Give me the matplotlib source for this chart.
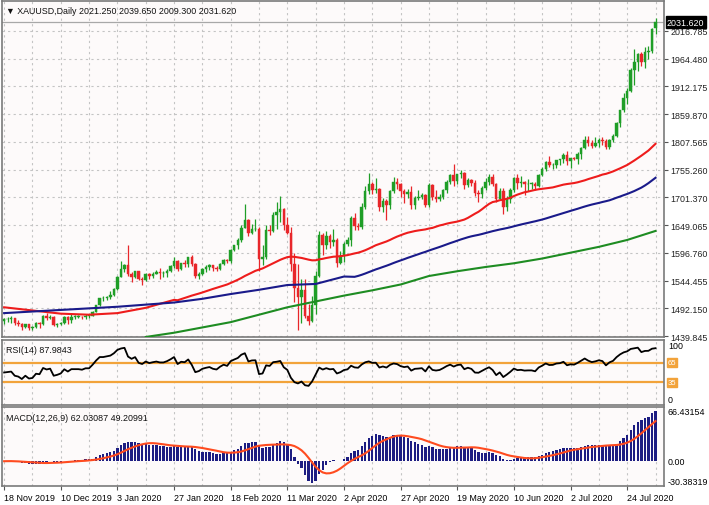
import numpy as np
import matplotlib
matplotlib.use("Agg")
import matplotlib.pyplot as plt

plt.rcParams["font.family"] = ["Liberation Sans", "DejaVu Sans"]

# ---------------- data (XAUUSD daily, 18 Nov 2019 .. 5 Aug 2020) ----------------
opens = [1468, 1471, 1472, 1473, 1464, 1462, 1456, 1462, 1455, 1456,
         1464, 1463, 1477, 1474, 1476, 1460, 1462, 1465, 1475, 1470,
         1476, 1476, 1476, 1475, 1478, 1478, 1486, 1498, 1511, 1511,
         1514, 1517, 1528, 1552, 1566, 1574, 1557, 1552, 1562, 1548,
         1545, 1557, 1553, 1557, 1560, 1558, 1558, 1563, 1571, 1582,
         1567, 1577, 1576, 1589, 1576, 1553, 1557, 1566, 1570, 1573,
         1568, 1566, 1576, 1584, 1581, 1602, 1611, 1620, 1644, 1658,
         1634, 1641, 1642, 1585, 1588, 1640, 1637, 1669, 1673, 1680,
         1649, 1634, 1576, 1530, 1514, 1526, 1478, 1469, 1498, 1553,
         1631, 1611, 1628, 1617, 1621, 1577, 1590, 1613, 1620, 1662,
         1648, 1645, 1683, 1713, 1726, 1716, 1717, 1683, 1694, 1686,
         1714, 1730, 1726, 1713, 1707, 1712, 1686, 1700, 1702, 1705,
         1686, 1725, 1702, 1698, 1702, 1715, 1731, 1743, 1733, 1745,
         1748, 1725, 1735, 1729, 1709, 1708, 1719, 1730, 1740, 1727,
         1699, 1714, 1684, 1698, 1715, 1737, 1728, 1730, 1726, 1727,
         1727, 1723, 1743, 1754, 1768, 1762, 1763, 1771, 1773, 1781,
         1770, 1775, 1774, 1783, 1795, 1809, 1803, 1799, 1803, 1809,
         1807, 1796, 1810, 1818, 1842, 1866, 1888, 1902, 1942, 1957,
         1971, 1956, 1975, 1977, 2021.25]
highs = [1474, 1476, 1478, 1474, 1470, 1464, 1463, 1463, 1459, 1466,
         1467, 1479, 1483, 1479, 1478, 1465, 1467, 1477, 1477, 1481,
         1479, 1479, 1478, 1481, 1481, 1487, 1499, 1512, 1515, 1516,
         1524, 1530, 1553, 1582, 1576, 1611, 1561, 1563, 1562, 1551,
         1559, 1558, 1561, 1564, 1568, 1562, 1566, 1573, 1588, 1583,
         1578, 1584, 1589, 1592, 1578, 1561, 1568, 1574, 1576, 1574,
         1571, 1578, 1585, 1586, 1604, 1612, 1624, 1649, 1689, 1661,
         1651, 1660, 1645, 1611, 1649, 1649, 1674, 1692, 1703, 1681,
         1664, 1645, 1596, 1575, 1548, 1547, 1500, 1516, 1562, 1637,
         1635, 1637, 1632, 1642, 1624, 1600, 1617, 1626, 1666, 1672,
         1653, 1691, 1722, 1747, 1730, 1737, 1719, 1700, 1698, 1716,
         1739, 1738, 1728, 1717, 1718, 1722, 1703, 1715, 1710, 1708,
         1728, 1727, 1716, 1708, 1717, 1735, 1745, 1765, 1746, 1753,
         1749, 1737, 1736, 1735, 1716, 1722, 1738, 1745, 1745, 1729,
         1719, 1719, 1703, 1719, 1739, 1745, 1741, 1732, 1736, 1731,
         1731, 1745, 1758, 1769, 1779, 1767, 1772, 1774, 1785, 1788,
         1776, 1777, 1786, 1797, 1818, 1818, 1809, 1815, 1813, 1815,
         1811, 1811, 1820, 1843, 1866, 1898, 1907, 1945, 1981, 1973,
         1975, 1984, 1987, 2021, 2039.65]
lows = [1462, 1466, 1464, 1461, 1459, 1452, 1454, 1451, 1452, 1454,
        1455, 1461, 1470, 1471, 1458, 1456, 1460, 1462, 1462, 1464,
        1472, 1473, 1472, 1472, 1474, 1477, 1485, 1497, 1506, 1507,
        1510, 1516, 1526, 1552, 1561, 1553, 1541, 1549, 1545, 1536,
        1543, 1548, 1550, 1556, 1547, 1551, 1551, 1561, 1569, 1563,
        1565, 1570, 1570, 1572, 1549, 1548, 1554, 1561, 1565, 1563,
        1562, 1564, 1574, 1577, 1578, 1600, 1603, 1617, 1644, 1628,
        1632, 1637, 1563, 1573, 1586, 1630, 1636, 1641, 1654, 1640,
        1633, 1562, 1504, 1451, 1465, 1474, 1460, 1466, 1482, 1552,
        1592, 1603, 1606, 1610, 1570, 1576, 1580, 1610, 1610, 1640,
        1640, 1642, 1679, 1708, 1707, 1709, 1675, 1673, 1659, 1679,
        1709, 1717, 1702, 1690, 1701, 1680, 1680, 1696, 1698, 1683,
        1683, 1696, 1692, 1694, 1698, 1710, 1726, 1722, 1727, 1738,
        1717, 1720, 1723, 1704, 1693, 1700, 1715, 1725, 1722, 1693,
        1698, 1670, 1676, 1691, 1712, 1717, 1720, 1705, 1714, 1717,
        1715, 1720, 1741, 1752, 1758, 1755, 1757, 1763, 1767, 1762,
        1757, 1771, 1764, 1774, 1792, 1798, 1795, 1797, 1797, 1801,
        1793, 1793, 1806, 1815, 1834, 1862, 1878, 1900, 1914, 1939,
        1949, 1946, 1962, 1973, 2009.3]
closes = [1471, 1472, 1473, 1464, 1462, 1456, 1462, 1455, 1456, 1464,
          1463, 1477, 1474, 1476, 1460, 1462, 1465, 1475, 1470, 1476,
          1476, 1476, 1475, 1478, 1478, 1486, 1498, 1511, 1511, 1514,
          1517, 1528, 1552, 1566, 1574, 1557, 1552, 1562, 1548, 1545,
          1557, 1553, 1557, 1560, 1558, 1558, 1563, 1571, 1582, 1567,
          1577, 1576, 1589, 1576, 1553, 1557, 1566, 1570, 1573, 1568,
          1566, 1576, 1584, 1581, 1602, 1611, 1620, 1644, 1658, 1634,
          1641, 1642, 1585, 1588, 1640, 1637, 1669, 1673, 1680, 1649,
          1634, 1576, 1530, 1514, 1526, 1478, 1469, 1498, 1553, 1631,
          1611, 1628, 1617, 1621, 1577, 1590, 1613, 1620, 1662, 1648,
          1645, 1683, 1713, 1726, 1716, 1717, 1683, 1694, 1686, 1714,
          1730, 1726, 1713, 1707, 1712, 1686, 1700, 1702, 1705, 1686,
          1725, 1702, 1698, 1702, 1715, 1731, 1743, 1733, 1745, 1748,
          1725, 1735, 1729, 1709, 1708, 1719, 1730, 1740, 1727, 1699,
          1714, 1684, 1698, 1715, 1737, 1728, 1730, 1726, 1727, 1727,
          1723, 1743, 1754, 1768, 1762, 1763, 1771, 1773, 1781, 1770,
          1775, 1774, 1783, 1795, 1809, 1803, 1799, 1803, 1809, 1807,
          1796, 1810, 1818, 1842, 1866, 1888, 1902, 1942, 1957, 1971,
          1956, 1975, 1977, 2019, 2031.62]

# moving-average values (one reading every 8th bar)
ma50_read = [1494, 1488, 1482, 1480, 1483, 1493, 1508]              # bars 0..48
ma100_read = [1483, 1486, 1489, 1492, 1495, 1499, 1503, 1510, 1519,
              1527, 1536, 1538, 1552]                                # bars 0..96
ma200_read = [1438, 1446, 1456, 1466, 1480, 1494, 1505, 1516, 1526,
              1537, 1553, 1562, 1570, 1577, 1586, 1597, 1608, 1621, 1638]  # bars 40..184

date_labels = ["18 Nov 2019", "10 Dec 2019", "3 Jan 2020", "27 Jan 2020",
               "18 Feb 2020", "11 Mar 2020", "2 Apr 2020", "27 Apr 2020",
               "19 May 2020", "10 Jun 2020", "2 Jul 2020", "24 Jul 2020"]
price_ticks = [1439.845, 1492.150, 1544.455, 1596.760, 1649.065, 1701.370,
               1755.260, 1807.565, 1859.870, 1912.175, 1964.480, 2016.785]
tick_values = [1439.845 + 52.305 * k for k in range(12)]
rsi_levels = [65, 35]
rsi_last = 87.9843
macd_last, signal_last = 62.03087, 49.20991
macd_top, macd_bottom = 66.43154, -30.38319

# ---------------- indicators ----------------
c = np.array(closes, dtype=float)
o = np.array(opens, dtype=float)
h = np.array(highs, dtype=float)
l = np.array(lows, dtype=float)
n = len(c)
idx = np.arange(n)

def sma(arr, p):
    out = np.full(len(arr), np.nan)
    for i in range(p - 1, len(arr)):
        out[i] = arr[i - p + 1:i + 1].mean()
    return out

ma50 = sma(c, 50)
ma100 = sma(c, 100)
ma50_x = np.r_[np.arange(0, 49, 8), np.arange(49, n)]
ma50_y = np.r_[ma50_read, ma50[49:]]
ma100_x = np.r_[np.arange(0, 97, 8), np.arange(99, n)]
ma100_y = np.r_[ma100_read, ma100[99:]]
ma200_x = np.arange(40, n, 8)

# RSI(14), Wilder smoothing
d = np.diff(c, prepend=c[0])
g = np.clip(d, 0, None)
ls = np.clip(-d, 0, None)
seed = np.abs(d[1:15]).mean() / 2
ag, al = seed, seed
rsi = np.zeros(n)
for i in range(n):
    if i > 0:
        ag = (ag * 13 + g[i]) / 14
        al = (al * 13 + ls[i]) / 14
    rsi[i] = 100 * ag / (ag + al)

def ema(arr, p):
    k = 2 / (p + 1)
    out = np.zeros(len(arr))
    out[0] = arr[0]
    for i in range(1, len(arr)):
        out[i] = arr[i] * k + out[i - 1] * (1 - k)
    return out

macd = ema(c, 12) - ema(c, 26)
signal = np.array([macd[max(0, i - 8):i + 1].mean() for i in range(n)])

# ---------------- figure ----------------
W, H = 709, 506
fig = plt.figure(figsize=(W / 100, H / 100), dpi=100)
fig.patch.set_facecolor("white")

def rect(left, top, right, bottom):
    return [left / W, 1 - bottom / H, (right - left) / W, (bottom - top) / H]

ax = fig.add_axes(rect(2, 2, 664, 338))
axr = fig.add_axes(rect(2, 341, 664, 406))
axm = fig.add_axes(rect(2, 408, 664, 487))

BG = "#fdfafa"
GRID = "#c4c4c4"
FS = 6.4
xlim = (-0.6, 186.4)
vgrid = np.arange(0, n, 8)

for a in (ax, axr, axm):
    a.set_facecolor(BG)
    a.set_xlim(*xlim)
    for s in a.spines.values():
        s.set_color("#7a7a7a")
        s.set_linewidth(1.2)
    for xv in vgrid:
        a.axvline(xv, color=GRID, lw=0.8, ls=(0, (2, 3)), zorder=0)
    a.tick_params(axis="x", bottom=False, labelbottom=False)

# main price panel
ax.set_ylim(1437.96, 2071.7)
for yv in tick_values:
    ax.axhline(yv, color=GRID, lw=0.8, ls=(0, (2, 3)), zorder=0)

UP, DN = "#1f9e27", "#e8262a"
cols = np.where(c >= o, UP, DN)
ax.vlines(idx, l, h, colors=cols, lw=0.9, zorder=3)
body_b = np.minimum(o, c)
body_h = np.maximum(np.abs(c - o), 0.8)
ax.bar(idx, body_h, bottom=body_b, width=0.7, color=cols, edgecolor=cols,
       linewidth=0.3, zorder=4)

ax.plot(ma50_x, ma50_y, color="#ee1c1c", lw=1.5, zorder=5)
ax.plot(ma100_x, ma100_y, color="#1a1a8a", lw=1.5, zorder=5)
ax.plot(ma200_x, ma200_read, color="#1e8c22", lw=1.5, zorder=5)

ax.axhline(closes[-1], color="#a8a8a8", lw=0.9, zorder=2)

ax.yaxis.tick_right()
ax.set_yticks(tick_values)
ax.set_yticklabels([f"{v:.3f}" for v in price_ticks])
ax.tick_params(axis="y", labelsize=FS, length=3, width=0.8, pad=1.5,
               color="#555555", labelcolor="#222222")

fig.text(667 / W, 1 - 23 / H, f"{closes[-1]:.3f}", fontsize=FS, color="white",
         va="center", ha="left",
         bbox=dict(boxstyle="square,pad=0.15", fc="black", ec="black"))

ax.text(0.006, 0.985,
        f"\u25bc XAUUSD,Daily {opens[-1]:.3f} {highs[-1]:.3f} {lows[-1]:.3f} {closes[-1]:.3f}",
        transform=ax.transAxes, fontsize=FS, va="top", ha="left", color="#111111")

# RSI panel
axr.set_ylim(0, 100)
axr.set_yticks([])
ORANGE = "#f2a33a"
for lv in rsi_levels:
    axr.axhline(lv, color=ORANGE, lw=1.6, zorder=2)
axr.plot(idx, rsi, color="black", lw=1.3, zorder=3)
axr.text(0.006, 0.93, f"RSI(14) {rsi_last:.4f}", transform=axr.transAxes,
         fontsize=FS, va="top", ha="left", color="#111111")
axr.text(1.006, 0.98, "100", transform=axr.transAxes, fontsize=FS, va="top", ha="left")
axr.text(1.006, 0.02, "0", transform=axr.transAxes, fontsize=FS, va="bottom", ha="left")
for lv in rsi_levels:
    axr.text(1.006, lv, str(lv), transform=axr.get_yaxis_transform(),
             fontsize=FS - 0.8, va="center", ha="left", color="white",
             bbox=dict(boxstyle="square,pad=0.1", fc=ORANGE, ec=ORANGE))

# MACD panel
axm.set_ylim(macd_bottom, macd_top)
axm.bar(idx, macd, width=0.66, color="#1d1d82", zorder=3)
axm.plot(idx, signal, color="#ff4b1f", lw=1.5, zorder=4)
axm.set_yticks([])
axm.text(0.006, 0.93, f"MACD(12,26,9) {macd_last:.5f} {signal_last:.5f}",
         transform=axm.transAxes, fontsize=FS, va="top", ha="left", color="#111111")
axm.text(1.006, macd_top, f"{macd_top:.5f}", transform=axm.get_yaxis_transform(),
         fontsize=FS, va="top", ha="left")
axm.text(1.006, 0, "0.00", transform=axm.get_yaxis_transform(),
         fontsize=FS, va="center", ha="left")
axm.text(1.006, macd_bottom, f"{macd_bottom:.5f}", transform=axm.get_yaxis_transform(),
         fontsize=FS, va="bottom", ha="left")

label_pos = np.arange(0, 16 * len(date_labels), 16)
axm.set_xticks(label_pos)
axm.set_xticklabels(date_labels)
axm.tick_params(axis="x", bottom=True, labelbottom=True, labelsize=FS,
                length=3, width=0.8, pad=2, color="#555555")
for t in axm.get_xticklabels():
    t.set_horizontalalignment("left")

fig.savefig("out.png", dpi=100, facecolor="white")
